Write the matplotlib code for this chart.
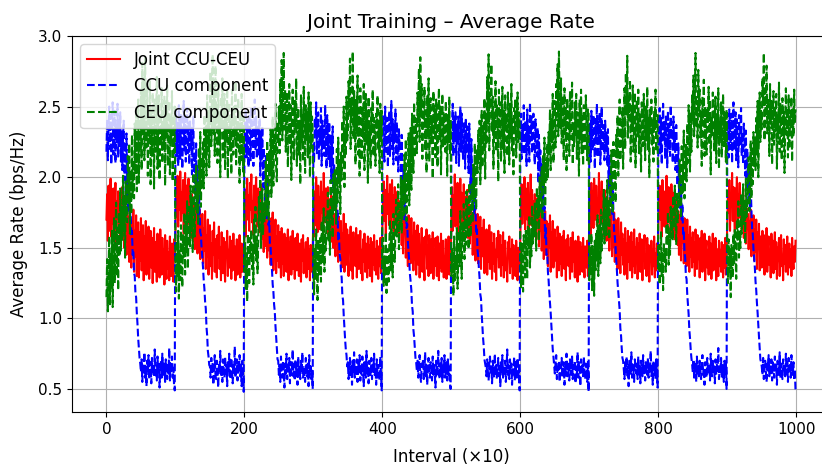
import numpy as np
import matplotlib
matplotlib.use("Agg")
import matplotlib.pyplot as plt

title = "Joint Training – Average Rate"
x_label = "Interval (×10)"
y_label = "Average Rate (bps/Hz)"
series_labels = ["Joint CCU-CEU", "CCU component", "CEU component"]

joint_rate = [
1.70,1.88,1.55,1.94,1.62,1.81,1.99,1.58,1.85,1.67,
1.92,1.60,1.78,1.96,1.54,1.83,1.71,1.90,1.63,1.86,
1.57,1.80,1.68,1.93,1.61,1.76,1.50,1.84,1.66,1.45,
1.79,1.54,1.72,1.40,1.75,1.58,1.36,1.70,1.47,1.77,
1.33,1.62,1.44,1.73,1.30,1.55,1.68,1.29,1.61,1.41,
1.71,1.34,1.52,1.66,1.27,1.58,1.45,1.69,1.31,1.55,
1.40,1.65,1.28,1.50,1.62,1.36,1.57,1.25,1.48,1.64,
1.33,1.54,1.42,1.26,1.60,1.38,1.52,1.29,1.63,1.44,
1.31,1.57,1.37,1.49,1.24,1.59,1.40,1.28,1.55,1.35,
1.47,1.27,1.58,1.39,1.30,1.53,1.43,1.26,1.56,1.41,
1.61,1.86,1.72,2.01,1.65,1.93,1.77,2.04,1.69,1.89,
1.75,1.98,1.60,1.87,2.03,1.70,1.94,1.63,1.85,1.99,
1.67,1.90,1.74,1.57,1.88,1.79,1.55,1.82,1.49,1.76,
1.62,1.79,1.46,1.71,1.55,1.77,1.42,1.68,1.51,1.74,
1.39,1.64,1.48,1.76,1.35,1.59,1.44,1.70,1.31,1.57,
1.66,1.37,1.53,1.28,1.62,1.45,1.68,1.33,1.56,1.40,
1.29,1.59,1.43,1.65,1.35,1.50,1.27,1.61,1.46,1.32,
1.57,1.38,1.26,1.54,1.44,1.62,1.30,1.48,1.36,1.58,
1.42,1.28,1.55,1.34,1.60,1.39,1.51,1.27,1.45,1.56,
1.31,1.50,1.38,1.59,1.29,1.44,1.53,1.33,1.48,1.40,
1.66,1.91,1.58,1.84,1.99,1.70,1.87,1.62,1.96,1.77,
2.02,1.68,1.83,1.59,1.94,1.74,1.88,2.00,1.65,1.81,
1.92,1.61,1.85,1.72,1.95,1.56,1.80,1.66,1.47,1.78,
1.69,1.51,1.76,1.43,1.64,1.73,1.48,1.60,1.38,1.71,
1.52,1.75,1.34,1.63,1.46,1.70,1.32,1.58,1.41,1.66,
1.36,1.61,1.47,1.29,1.64,1.39,1.55,1.30,1.60,1.43,
1.57,1.33,1.49,1.63,1.27,1.54,1.40,1.58,1.31,1.46,
1.62,1.35,1.51,1.28,1.57,1.42,1.34,1.60,1.45,1.30,
1.53,1.38,1.26,1.56,1.41,1.59,1.32,1.48,1.37,1.54,
1.29,1.46,1.57,1.35,1.49,1.27,1.52,1.40,1.33,1.50,
1.73,1.58,1.90,1.66,2.00,1.79,1.61,1.94,1.71,1.86,
1.63,1.97,1.75,1.89,1.60,2.03,1.78,1.68,1.92,1.82,
1.70,1.93,1.59,1.84,1.76,1.54,1.87,1.63,1.79,1.50,
1.74,1.58,1.44,1.78,1.53,1.66,1.40,1.72,1.57,1.47,
1.69,1.36,1.60,1.45,1.74,1.33,1.57,1.67,1.38,1.63,
1.44,1.30,1.59,1.48,1.65,1.34,1.52,1.28,1.61,1.42,
1.55,1.37,1.64,1.29,1.50,1.59,1.35,1.46,1.62,1.32,
1.48,1.27,1.56,1.40,1.60,1.33,1.53,1.44,1.29,1.58,
1.36,1.52,1.30,1.57,1.43,1.26,1.54,1.38,1.59,1.34,
1.49,1.31,1.55,1.42,1.28,1.51,1.37,1.57,1.32,1.46,
1.64,1.85,1.97,1.69,1.91,1.57,1.82,2.01,1.74,1.88,
1.66,1.95,1.79,1.62,1.98,1.73,1.87,1.59,1.93,1.76,
1.84,1.62,1.90,1.70,1.58,1.83,1.66,1.77,1.52,1.75,
1.46,1.72,1.60,1.79,1.43,1.68,1.55,1.37,1.73,1.50,
1.65,1.39,1.71,1.47,1.58,1.34,1.68,1.42,1.62,1.31,
1.54,1.66,1.38,1.60,1.29,1.51,1.44,1.64,1.33,1.57,
1.41,1.27,1.58,1.46,1.63,1.35,1.52,1.30,1.59,1.43,
1.32,1.56,1.39,1.61,1.28,1.49,1.37,1.57,1.45,1.30,
1.58,1.42,1.27,1.53,1.36,1.60,1.33,1.47,1.55,1.29,
1.44,1.35,1.56,1.28,1.50,1.41,1.58,1.31,1.47,1.38,
1.69,1.93,1.62,1.87,1.76,2.02,1.65,1.90,1.80,1.96,
1.58,1.84,1.72,1.99,1.67,1.89,1.77,1.61,1.95,1.70,
1.86,1.64,1.79,1.91,1.57,1.81,1.68,1.53,1.80,1.60,
1.75,1.45,1.70,1.56,1.78,1.41,1.66,1.52,1.74,1.39,
1.60,1.48,1.72,1.35,1.64,1.44,1.56,1.70,1.32,1.59,
1.45,1.63,1.31,1.56,1.40,1.66,1.35,1.50,1.61,1.28,
1.53,1.39,1.60,1.33,1.48,1.27,1.57,1.44,1.62,1.36,
1.47,1.59,1.30,1.52,1.38,1.61,1.29,1.45,1.55,1.34,
1.40,1.26,1.54,1.43,1.58,1.32,1.49,1.37,1.56,1.28,
1.52,1.36,1.45,1.30,1.55,1.39,1.27,1.50,1.42,1.34,
1.60,1.84,1.95,1.67,1.89,1.74,2.00,1.63,1.92,1.79,
1.70,1.96,1.61,1.86,1.78,2.02,1.66,1.91,1.73,1.83,
1.64,1.88,1.75,1.56,1.85,1.69,1.81,1.51,1.77,1.62,
1.79,1.48,1.67,1.74,1.42,1.63,1.76,1.45,1.69,1.54,
1.37,1.67,1.50,1.73,1.33,1.61,1.46,1.69,1.36,1.55,
1.63,1.41,1.57,1.29,1.65,1.47,1.34,1.60,1.39,1.53,
1.30,1.58,1.44,1.62,1.35,1.51,1.27,1.56,1.42,1.59,
1.37,1.50,1.28,1.57,1.43,1.33,1.61,1.40,1.52,1.29,
1.55,1.36,1.48,1.26,1.58,1.41,1.31,1.54,1.38,1.50,
1.33,1.57,1.40,1.29,1.51,1.44,1.36,1.55,1.30,1.47,
1.68,1.87,1.59,1.96,1.73,1.90,1.64,1.99,1.81,1.70,
1.94,1.66,1.85,1.76,2.03,1.61,1.89,1.79,1.97,1.68,
1.83,1.58,1.91,1.69,1.80,1.55,1.86,1.63,1.74,1.48,
1.72,1.59,1.77,1.44,1.66,1.51,1.75,1.40,1.70,1.55,
1.62,1.35,1.71,1.49,1.57,1.32,1.68,1.45,1.60,1.38,
1.56,1.31,1.64,1.43,1.53,1.28,1.62,1.40,1.58,1.34,
1.46,1.61,1.29,1.54,1.37,1.63,1.32,1.50,1.41,1.57,
1.28,1.53,1.39,1.60,1.33,1.47,1.56,1.27,1.51,1.42,
1.59,1.35,1.45,1.30,1.57,1.38,1.52,1.26,1.48,1.40,
1.55,1.31,1.49,1.37,1.58,1.29,1.46,1.34,1.53,1.43,
1.63,1.82,1.94,1.70,1.88,1.58,1.98,1.76,1.85,1.65,
1.90,1.72,2.01,1.64,1.84,1.93,1.69,1.87,1.60,1.95,
1.78,1.62,1.89,1.73,1.56,1.84,1.67,1.79,1.52,1.76,
1.45,1.73,1.58,1.41,1.77,1.54,1.68,1.39,1.71,1.50,
1.66,1.37,1.70,1.48,1.59,1.33,1.65,1.44,1.57,1.36,
1.61,1.40,1.54,1.30,1.63,1.46,1.35,1.59,1.42,1.56,
1.29,1.57,1.45,1.62,1.33,1.52,1.38,1.60,1.27,1.49,
1.55,1.36,1.48,1.31,1.58,1.41,1.53,1.28,1.46,1.60,
1.34,1.51,1.39,1.57,1.27,1.49,1.43,1.30,1.55,1.37,
1.48,1.33,1.54,1.40,1.29,1.52,1.36,1.57,1.31,1.45,
1.67,1.90,1.75,1.98,1.62,1.86,1.79,2.03,1.69,1.93,
1.78,1.61,1.92,1.83,2.00,1.66,1.88,1.74,1.96,1.71,
1.85,1.63,1.79,1.92,1.57,1.82,1.70,1.53,1.78,1.64,
1.74,1.49,1.69,1.57,1.77,1.44,1.66,1.52,1.73,1.41,
1.63,1.47,1.70,1.35,1.61,1.50,1.67,1.34,1.58,1.42,
1.36,1.62,1.45,1.59,1.31,1.55,1.40,1.64,1.33,1.51,
1.58,1.38,1.47,1.29,1.60,1.43,1.55,1.32,1.49,1.61,
1.35,1.54,1.28,1.50,1.41,1.57,1.30,1.46,1.59,1.37,
1.44,1.27,1.56,1.39,1.52,1.33,1.48,1.58,1.31,1.45,
1.53,1.36,1.49,1.30,1.57,1.42,1.35,1.51,1.40,1.55,
]

ccu_rate = [
2.18,2.41,2.12,2.35,2.50,2.20,2.44,2.09,2.38,2.53,
2.16,2.31,2.47,2.10,2.36,2.25,2.52,2.14,2.40,2.22,
2.46,2.11,2.33,2.05,2.28,2.40,1.98,2.25,1.90,2.31,
1.84,2.12,1.75,2.05,1.68,1.80,1.58,1.62,1.45,1.48,
1.32,1.30,1.18,1.15,1.04,0.96,0.86,0.79,0.72,0.68,
0.62,0.71,0.55,0.68,0.60,0.76,0.58,0.66,0.52,0.70,
0.63,0.74,0.57,0.65,0.69,0.54,0.72,0.61,0.67,0.59,
0.78,0.60,0.64,0.56,0.73,0.62,0.68,0.51,0.66,0.70,
0.58,0.75,0.63,0.60,0.69,0.55,0.71,0.64,0.57,0.67,
0.61,0.79,0.56,0.68,0.62,0.73,0.58,0.65,0.53,0.49,
2.24,2.47,2.15,2.39,2.08,2.51,2.27,2.13,2.44,2.30,
2.06,2.37,2.54,2.19,2.42,2.11,2.33,2.49,2.17,2.38,
2.09,2.45,2.21,2.35,2.02,2.29,2.43,1.95,2.18,1.87,
2.24,1.80,2.08,1.72,1.94,1.76,1.61,1.59,1.49,1.43,
1.36,1.27,1.21,1.12,1.07,0.94,0.88,0.77,0.73,0.67,
0.66,0.58,0.72,0.61,0.69,0.53,0.65,0.74,0.60,0.57,
0.70,0.63,0.51,0.68,0.62,0.77,0.59,0.66,0.55,0.71,
0.64,0.58,0.73,0.61,0.67,0.52,0.69,0.63,0.75,0.57,
0.60,0.72,0.65,0.54,0.68,0.62,0.80,0.58,0.66,0.71,
0.56,0.69,0.63,0.74,0.59,0.67,0.52,0.70,0.61,0.48,
2.20,2.36,2.48,2.14,2.41,2.26,2.07,2.45,2.32,2.12,
2.50,2.23,2.39,2.08,2.34,2.55,2.19,2.43,2.13,2.30,
2.37,2.16,2.42,2.01,2.32,2.12,2.36,1.93,2.21,2.03,
1.82,2.15,1.71,1.98,1.79,1.66,1.69,1.52,1.50,1.39,
1.34,1.24,1.19,1.10,1.05,0.95,0.87,0.80,0.71,0.70,
0.60,0.67,0.55,0.73,0.62,0.58,0.70,0.64,0.51,0.68,
0.61,0.75,0.57,0.66,0.63,0.72,0.54,0.69,0.60,0.65,
0.78,0.59,0.64,0.56,0.71,0.62,0.67,0.53,0.73,0.60,
0.66,0.57,0.70,0.63,0.76,0.58,0.65,0.61,0.55,0.72,
0.64,0.59,0.68,0.52,0.74,0.61,0.66,0.57,0.63,0.50,
2.23,2.10,2.42,2.31,2.53,2.17,2.37,2.46,2.12,2.34,
2.27,2.49,2.08,2.40,2.21,2.35,2.15,2.51,2.29,2.06,
2.44,2.24,2.13,2.39,2.07,2.30,1.97,2.22,2.36,1.89,
2.10,1.78,2.01,1.86,1.69,1.77,1.56,1.60,1.46,1.42,
1.33,1.29,1.16,1.13,1.02,0.93,0.85,0.78,0.74,0.66,
0.69,0.57,0.64,0.72,0.59,0.66,0.53,0.70,0.62,0.76,
0.58,0.65,0.61,0.71,0.55,0.68,0.63,0.74,0.56,0.67,
0.60,0.73,0.62,0.52,0.69,0.64,0.58,0.77,0.61,0.66,
0.54,0.70,0.63,0.59,0.72,0.57,0.68,0.62,0.75,0.60,
0.65,0.53,0.71,0.58,0.67,0.62,0.56,0.73,0.60,0.49,
2.21,2.44,2.29,2.11,2.50,2.35,2.18,2.42,2.07,2.38,
2.47,2.15,2.33,2.54,2.20,2.41,2.09,2.36,2.26,2.48,
2.12,2.39,2.23,2.04,2.34,2.19,2.26,1.91,2.30,1.96,
1.85,2.07,1.70,1.96,1.82,1.64,1.67,1.54,1.47,1.40,
1.31,1.26,1.20,1.09,1.05,0.92,0.87,0.79,0.72,0.69,
0.63,0.70,0.58,0.66,0.74,0.60,0.55,0.68,0.64,0.71,
0.57,0.62,0.76,0.59,0.67,0.53,0.65,0.72,0.61,0.58,
0.69,0.64,0.56,0.73,0.60,0.67,0.62,0.51,0.70,0.65,
0.59,0.77,0.63,0.57,0.68,0.61,0.72,0.55,0.66,0.62,
0.74,0.58,0.64,0.69,0.56,0.71,0.60,0.66,0.54,0.50,
2.19,2.33,2.52,2.15,2.40,2.28,2.46,2.10,2.37,2.24,
2.43,2.08,2.31,2.50,2.18,2.45,2.27,2.13,2.39,2.34,
2.06,2.42,2.17,2.36,2.25,2.03,2.38,2.14,1.88,2.27,
1.99,1.81,2.06,1.73,1.90,1.78,1.60,1.63,1.48,1.44,
1.35,1.28,1.17,1.14,1.03,0.94,0.86,0.80,0.71,0.68,
0.65,0.59,0.71,0.62,0.56,0.68,0.73,0.60,0.66,0.54,
0.70,0.63,0.58,0.75,0.61,0.67,0.57,0.64,0.72,0.59,
0.66,0.52,0.69,0.62,0.74,0.58,0.65,0.61,0.70,0.55,
0.63,0.78,0.60,0.67,0.57,0.71,0.62,0.68,0.53,0.65,
0.61,0.73,0.56,0.69,0.63,0.58,0.72,0.60,0.66,0.49,
2.23,2.45,2.13,2.37,2.29,2.51,2.16,2.40,2.32,2.08,
2.48,2.22,2.36,2.11,2.53,2.26,2.43,2.17,2.35,2.45,
2.20,2.09,2.41,2.28,2.15,2.35,1.96,2.30,2.05,2.19,
1.86,2.09,1.77,1.97,1.71,1.79,1.57,1.64,1.45,1.46,
1.33,1.27,1.18,1.11,1.04,0.95,0.85,0.78,0.73,0.67,
0.61,0.68,0.74,0.57,0.65,0.62,0.70,0.55,0.67,0.63,
0.72,0.58,0.64,0.69,0.53,0.66,0.61,0.75,0.59,0.68,
0.62,0.56,0.71,0.64,0.60,0.73,0.57,0.67,0.63,0.70,
0.54,0.66,0.61,0.76,0.58,0.69,0.64,0.52,0.71,0.62,
0.67,0.59,0.73,0.63,0.57,0.68,0.65,0.55,0.70,0.48,
2.22,2.38,2.11,2.47,2.30,2.19,2.44,2.35,2.06,2.41,
2.28,2.52,2.14,2.39,2.24,2.46,2.09,2.33,2.50,2.18,
2.37,2.26,2.12,2.40,2.20,2.31,2.08,2.34,1.92,2.16,
2.00,1.83,2.04,1.74,1.92,1.75,1.62,1.58,1.51,1.41,
1.34,1.25,1.19,1.12,1.06,0.93,0.88,0.79,0.72,0.70,
0.64,0.57,0.69,0.62,0.73,0.59,0.66,0.52,0.70,0.64,
0.60,0.76,0.58,0.67,0.63,0.55,0.71,0.65,0.61,0.68,
0.57,0.73,0.62,0.66,0.54,0.70,0.63,0.59,0.74,0.61,
0.67,0.56,0.69,0.64,0.60,0.72,0.58,0.65,0.62,0.77,
0.59,0.66,0.53,0.70,0.63,0.68,0.57,0.71,0.61,0.51,
2.20,2.35,2.49,2.17,2.42,2.09,2.33,2.52,2.25,2.39,
2.13,2.44,2.30,2.07,2.47,2.21,2.38,2.15,2.51,2.27,
2.34,2.10,2.43,2.22,2.31,2.05,2.37,2.17,1.94,2.24,
1.89,2.03,1.78,1.95,1.70,1.81,1.59,1.61,1.47,1.43,
1.30,1.28,1.17,1.10,1.03,0.92,0.86,0.78,0.72,0.68,
0.62,0.71,0.58,0.65,0.69,0.55,0.73,0.61,0.66,0.59,
0.70,0.63,0.57,0.68,0.74,0.60,0.65,0.53,0.69,0.62,
0.58,0.72,0.64,0.61,0.67,0.56,0.75,0.63,0.59,0.70,
0.62,0.66,0.54,0.71,0.60,0.68,0.63,0.79,0.57,0.65,
0.61,0.72,0.58,0.67,0.64,0.55,0.70,0.62,0.68,0.50,
2.24,2.40,2.14,2.48,2.31,2.20,2.45,2.10,2.37,2.53,
2.19,2.34,2.46,2.12,2.41,2.28,2.07,2.44,2.23,2.36,
2.49,2.15,2.32,2.09,2.38,2.27,2.01,2.33,1.90,2.20,
1.97,1.84,2.05,1.76,1.93,1.77,1.63,1.60,1.49,1.42,
1.36,1.26,1.20,1.11,1.04,0.95,0.87,0.79,0.71,0.69,
0.66,0.60,0.72,0.57,0.64,0.70,0.62,0.55,0.68,0.63,
0.74,0.59,0.66,0.61,0.71,0.56,0.69,0.64,0.58,0.73,
0.62,0.67,0.53,0.70,0.65,0.60,0.76,0.58,0.68,0.63,
0.57,0.71,0.64,0.66,0.59,0.75,0.61,0.69,0.55,0.72,
0.63,0.67,0.58,0.74,0.62,0.60,0.69,0.56,0.64,0.48,
]

ceu_rate = [
1.15,1.42,1.05,1.33,1.58,1.10,1.47,1.22,1.62,1.08,
1.38,1.71,1.25,1.56,1.82,1.30,1.64,1.20,1.75,1.44,
1.92,1.48,1.79,1.55,2.01,1.62,1.88,1.43,1.97,1.70,
1.68,2.15,1.82,2.24,1.60,2.05,1.74,2.30,1.86,2.12,
1.85,2.38,2.02,2.49,1.90,2.27,2.55,1.96,2.41,2.18,
2.62,2.05,2.81,2.30,2.70,2.12,2.86,2.44,2.21,2.66,
2.01,2.52,2.24,2.68,1.95,2.47,2.15,2.60,2.33,1.92,
2.55,2.18,2.42,2.71,2.06,2.37,2.58,1.98,2.45,2.22,
2.63,2.10,2.39,2.20,2.57,1.94,2.48,2.29,2.65,2.08,
2.35,2.54,2.02,2.44,2.26,2.61,1.97,2.40,2.17,2.50,
1.41,1.19,1.55,1.30,1.62,1.14,1.48,1.27,1.66,1.36,
1.22,1.59,1.43,1.75,1.31,1.68,1.46,1.83,1.35,1.61,
1.79,1.51,1.94,1.62,1.86,1.47,2.03,1.73,1.58,1.90,
2.08,1.75,1.96,1.66,2.21,1.88,2.32,1.79,2.14,1.93,
2.26,1.92,2.44,2.13,2.36,2.01,2.58,2.19,2.47,2.07,
2.40,2.75,2.22,2.58,2.87,2.31,2.64,2.15,2.79,2.38,
2.49,2.10,2.66,2.28,2.42,2.00,2.57,2.35,2.70,2.14,
2.31,2.59,2.05,2.46,2.25,2.63,1.99,2.40,2.53,2.19,
2.44,2.02,2.62,2.33,2.16,2.50,2.27,2.68,2.09,2.38,
2.21,2.56,2.30,1.96,2.47,2.12,2.59,2.34,2.04,2.42,
1.33,1.54,1.21,1.46,1.12,1.60,1.38,1.25,1.57,1.43,
1.63,1.35,1.52,1.24,1.70,1.46,1.79,1.41,1.58,1.32,
1.55,1.86,1.64,1.99,1.50,1.77,1.92,1.59,1.83,1.68,
1.81,2.11,1.73,2.26,1.95,1.70,2.18,2.01,2.34,1.86,
2.04,2.43,1.94,2.31,2.16,2.52,2.08,1.97,2.39,2.24,
2.50,2.17,2.69,2.36,2.83,2.26,2.58,2.88,2.34,2.62,
2.18,2.45,2.60,2.07,2.39,2.66,2.23,2.51,1.98,2.43,
2.62,2.29,2.12,2.54,2.36,2.70,2.08,2.31,2.49,2.16,
2.40,1.95,2.58,2.25,2.44,2.11,2.64,2.32,2.03,2.51,
2.27,2.46,2.14,2.60,2.35,2.00,2.53,2.21,2.43,2.33,
1.39,1.17,1.50,1.28,1.63,1.35,1.13,1.56,1.31,1.45,
1.57,1.26,1.69,1.40,1.53,1.78,1.33,1.61,1.48,1.72,
1.62,1.89,1.54,1.76,1.45,1.98,1.70,1.83,1.57,2.02,
1.76,2.05,1.89,1.67,2.20,1.82,2.28,1.96,2.12,1.74,
2.19,1.98,2.40,2.09,2.50,1.93,2.33,2.15,2.57,2.26,
2.31,2.68,2.45,2.84,2.20,2.56,2.39,2.89,2.27,2.61,
2.44,2.09,2.55,2.30,2.72,2.16,2.48,2.01,2.63,2.37,
2.12,2.50,2.28,2.66,2.05,2.41,2.59,2.23,2.46,1.96,
2.57,2.20,2.38,2.06,2.49,2.31,2.62,2.15,2.42,2.29,
2.08,2.45,2.34,2.58,2.19,2.40,2.03,2.52,2.26,2.47,
1.36,1.57,1.23,1.44,1.31,1.61,1.18,1.49,1.38,1.26,
1.52,1.70,1.34,1.63,1.47,1.29,1.74,1.55,1.40,1.66,
1.84,1.58,1.72,1.95,1.49,1.81,1.66,2.00,1.60,1.77,
1.98,1.72,2.16,1.85,2.27,1.69,2.04,1.93,2.31,1.80,
2.06,2.35,1.91,2.45,2.20,2.03,2.53,2.14,2.42,2.29,
2.17,2.60,2.38,2.77,2.25,2.85,2.43,2.66,2.13,2.52,
2.36,2.64,2.19,2.47,2.03,2.58,2.32,2.70,2.11,2.45,
2.56,2.24,2.40,1.99,2.61,2.30,2.48,2.14,2.55,2.34,
2.07,2.43,2.63,2.27,2.50,2.02,2.39,2.59,2.22,2.46,
2.35,2.18,2.54,2.29,2.01,2.44,2.25,2.57,2.16,2.40,
1.30,1.49,1.40,1.16,1.58,1.27,1.44,1.35,1.64,1.21,
1.45,1.62,1.37,1.76,1.50,1.28,1.67,1.54,1.81,1.42,
1.71,1.52,1.90,1.63,1.84,1.49,1.96,1.75,1.58,1.88,
1.95,1.68,2.09,1.83,2.24,1.92,1.77,2.19,2.03,2.33,
2.12,2.40,1.95,2.28,2.47,2.07,2.36,2.21,2.56,1.99,
2.45,2.23,2.71,2.38,2.87,2.19,2.60,2.49,2.80,2.32,
2.57,2.06,2.44,2.29,2.68,2.18,2.51,2.38,1.97,2.62,
2.26,2.53,2.11,2.42,2.64,2.20,2.47,2.03,2.58,2.33,
2.45,2.15,2.60,2.37,2.09,2.52,2.28,2.66,2.19,2.41,
2.02,2.49,2.31,2.56,2.14,2.38,2.60,2.25,2.46,2.36,
1.44,1.22,1.53,1.35,1.19,1.59,1.42,1.29,1.62,1.37,
1.28,1.65,1.49,1.73,1.36,1.58,1.44,1.80,1.53,1.69,
1.58,1.82,1.66,1.48,1.93,1.71,1.87,1.55,2.00,1.74,
1.84,2.07,1.70,2.15,1.94,2.28,1.79,2.11,1.98,2.24,
2.00,2.32,2.17,2.48,2.05,2.41,2.25,2.59,2.10,2.37,
2.54,2.21,2.66,2.43,2.80,2.29,2.89,2.47,2.35,2.70,
2.24,2.58,2.40,2.12,2.63,2.31,2.49,2.05,2.56,2.36,
2.48,2.15,2.61,2.27,2.44,2.67,2.09,2.38,2.22,2.53,
2.30,2.59,2.13,2.46,2.35,2.01,2.55,2.26,2.62,2.17,
2.43,2.08,2.51,2.32,2.20,2.58,2.37,2.12,2.48,2.45,
1.27,1.46,1.32,1.60,1.20,1.51,1.39,1.16,1.55,1.34,
1.60,1.41,1.73,1.30,1.57,1.66,1.39,1.77,1.48,1.62,
1.66,1.91,1.53,1.78,1.86,1.59,1.98,1.69,1.82,1.56,
2.02,1.78,2.19,1.87,1.74,2.25,1.98,2.10,1.82,2.30,
2.14,2.44,2.01,2.33,2.55,2.12,2.39,2.23,2.49,2.06,
2.36,2.63,2.20,2.74,2.44,2.86,2.28,2.57,2.41,2.69,
2.11,2.50,2.33,2.65,2.18,2.44,2.60,2.07,2.39,2.55,
2.29,2.62,2.17,2.46,2.34,2.04,2.53,2.41,2.22,2.59,
2.37,2.12,2.50,2.26,2.64,2.19,2.42,2.00,2.48,2.31,
2.55,2.23,2.40,2.11,2.47,2.34,2.62,2.18,2.39,2.44,
1.35,1.52,1.24,1.43,1.61,1.30,1.48,1.20,1.54,1.40,
1.48,1.33,1.67,1.52,1.75,1.38,1.60,1.45,1.79,1.57,
1.77,1.55,1.87,1.64,1.94,1.71,1.52,1.90,1.68,1.85,
1.80,2.12,1.93,1.71,2.22,1.89,2.06,2.33,1.85,2.17,
2.23,1.97,2.38,2.10,2.51,2.29,2.04,2.46,2.18,2.58,
2.40,2.72,2.29,2.61,2.88,2.35,2.54,2.21,2.76,2.47,
2.62,2.28,2.45,2.08,2.57,2.37,2.69,2.15,2.50,2.32,
2.16,2.48,2.39,2.64,2.23,2.55,2.02,2.43,2.30,2.60,
2.51,2.19,2.36,2.57,2.10,2.45,2.28,2.63,2.06,2.39,
2.27,2.53,2.14,2.41,2.59,2.22,2.46,2.33,2.11,2.48,
1.42,1.25,1.56,1.33,1.47,1.15,1.52,1.38,1.29,1.60,
1.39,1.64,1.47,1.28,1.70,1.55,1.83,1.43,1.61,1.50,
1.88,1.60,1.75,1.95,1.67,1.84,1.53,1.99,1.72,1.81,
1.90,2.14,1.76,2.03,2.26,1.85,2.19,1.95,2.32,2.08,
2.28,2.05,2.42,2.16,2.54,2.00,2.37,2.60,2.25,2.47,
2.34,2.70,2.51,2.88,2.26,2.62,2.43,2.79,2.31,2.56,
2.47,2.15,2.66,2.38,2.54,2.09,2.43,2.61,2.23,2.50,
2.33,2.59,2.06,2.44,2.28,2.67,2.18,2.52,2.37,2.12,
2.56,2.25,2.46,2.03,2.40,2.63,2.30,2.49,2.14,2.58,
2.20,2.44,2.35,2.57,2.11,2.48,2.29,2.62,2.39,2.48,
]

plt.rcParams["font.family"] = "DejaVu Sans"
fig = plt.figure(figsize=(8.22, 4.67), dpi=100)
ax = fig.add_axes([72 / 822, 55 / 467, (830 - 72) / 822, (412 - 36) / 467])

ax.plot(np.arange(len(joint_rate)), joint_rate, "r-", label=series_labels[0])
ax.plot(np.arange(len(ccu_rate)), ccu_rate, "b--", label=series_labels[1])
ax.plot(np.arange(len(ceu_rate)), ceu_rate, "g--", label=series_labels[2])

ax.set_xlim(-49.95, 1048.95)
ax.set_ylim(0.337, 3.0)
ax.set_xticks([0, 200, 400, 600, 800, 1000])
ax.set_yticks([0.5, 1.0, 1.5, 2.0, 2.5, 3.0])
ax.tick_params(labelsize=11)
ax.set_title(title, fontsize=14.4)
ax.set_xlabel(x_label, fontsize=12, labelpad=8)
ax.set_ylabel(y_label, fontsize=12, labelpad=7)
ax.grid(True)
ax.legend(loc="upper left", fontsize=12)

fig.savefig("out.png", dpi=100)
